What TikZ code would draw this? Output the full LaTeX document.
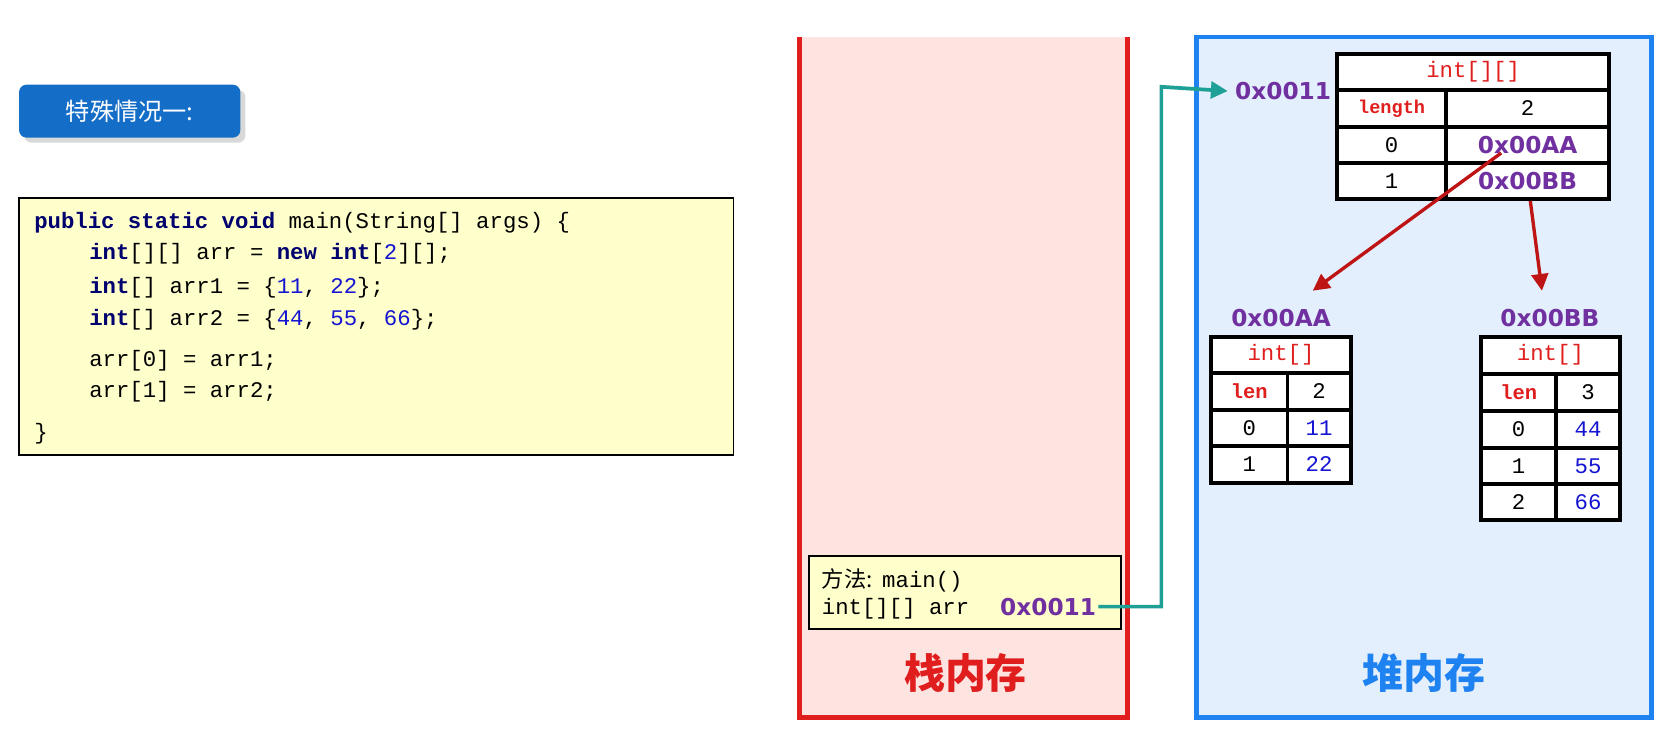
\documentclass[tikz,border=0pt]{standalone}
\usepackage{fontspec}
\setmainfont{DejaVu Sans}
\setmonofont{Liberation Mono}
\newfontfamily\cjk{Noto Sans CJK SC}
\usetikzlibrary{arrows.meta,shadows}
\definecolor{purp}{RGB}{112,48,160}
\definecolor{kw}{RGB}{0,0,110}
\definecolor{num}{RGB}{20,20,210}
\definecolor{rd}{RGB}{225,30,30}
\definecolor{drd}{RGB}{190,20,20}
\definecolor{teal2}{RGB}{30,160,150}
\definecolor{codebg}{RGB}{255,255,204}
\definecolor{stackbg}{RGB}{253,228,225}
\definecolor{heapbg}{RGB}{227,239,252}
\definecolor{heapbd}{RGB}{30,130,240}
\definecolor{tagbg}{RGB}{20,110,200}
\tikzset{
 cell/.style={draw=black,line width=2pt,fill=white,inner sep=0pt,font=\ttfamily\fontsize{12}{12}\selectfont},
 addr/.style={font=\bfseries\fontsize{12.5}{14}\selectfont,text=purp,inner sep=1pt},
 codeline/.style={anchor=west,inner sep=0pt,font=\ttfamily\fontsize{12}{14}\selectfont},
 refarrow/.style={draw=drd,line width=1.8pt,-{Triangle[length=9pt,width=9pt]}},
}
\newcommand{\kwd}[1]{\textbf{\textcolor{kw}{#1}}}
\newcommand{\nm}[1]{\textcolor{num}{#1}}
\begin{document}
\begin{tikzpicture}[x=0.02cm,y=-0.02cm]
\useasboundingbox (0,0) rectangle (1568,689);
% tag
\node[fill=tagbg,rounded corners=4pt,minimum width=209*0.02cm,minimum height=50*0.02cm,text=white,font=\cjk\fontsize{13}{14}\selectfont,drop shadow={opacity=0.3}] (tag) at (122.5,105) {特殊情况一:};
% code
\draw[fill=codebg,line width=0.8pt] (18,187) rectangle (693,430);
\node[codeline] (c1) at (32,210) {\kwd{public static void} main(String[] args) \{};
\node[codeline] (c2) at (84,240) {\kwd{int}[][] arr = \kwd{new int}[\nm{2}][];};
\node[codeline] (c3) at (84,272) {\kwd{int}[] arr1 = \{\nm{11}, \nm{22}\};};
\node[codeline] (c4) at (84,302) {\kwd{int}[] arr2 = \{\nm{44}, \nm{55}, \nm{66}\};};
\node[codeline] (c5) at (84,341) {arr[0] = arr1;};
\node[codeline] (c6) at (84,370) {arr[1] = arr2;};
\node[codeline] (c7) at (32,410) {\}};
% stack
\fill[stackbg] (755,35) rectangle (1065,678);
\draw[rd,line width=2.5pt] (755,35) -- (755,678) -- (1065,678) -- (1065,35);
\node[text=rd,font=\cjk\bfseries\fontsize{22}{24}\selectfont] (stk) at (912,636) {栈内存};
\draw[fill=codebg,line width=0.8pt] (764,525) rectangle (1059,594);
\node[codeline,font=\fontsize{12}{14}\selectfont] (m1) at (776,548) {{\cjk 方法:} \texttt{main()}};
\node[codeline] (m2) at (776,575) {int[][] arr};
\node[addr] (m3) at (990,573) {0x0011};
% heap
\draw[fill=heapbg,draw=heapbd,line width=2.5pt] (1130,35) rectangle (1560,678);
\node[text=heapbd,font=\cjk\bfseries\fontsize{22}{24}\selectfont] (hp) at (1345,636) {堆内存};
\node[addr] (h0) at (1212,86) {0x0011};
\draw[teal2,line width=2pt,-{Triangle[length=9pt,width=9pt]}] (m3.east) -- (1097,573) -- (1097,82) -- ([xshift=-0.1cm]h0.west);
% table 1
\newcommand{\cellat}[6]{\node[cell,minimum width=#3*0.02cm,minimum height=#4*0.02cm,#5] (#1) at (#2) {#6};}
\cellat{ta}{1391.5,68}{257}{34}{text=rd}{int[][]}
\cellat{tb}{1314.5,102.5}{103}{35}{text=rd,font=\ttfamily\bfseries\fontsize{10}{10}\selectfont}{length}
\cellat{tc}{1443,102.5}{154}{35}{}{2}
\cellat{td}{1314.5,137}{103}{34}{}{0}
\cellat{te}{1443,137}{154}{34}{addr}{0x00AA}
\cellat{tf}{1314.5,171}{103}{34}{}{1}
\cellat{tg}{1443,171}{154}{34}{addr}{0x00BB}
% table 2
\node[addr] (a0) at (1210,300) {0x00AA};
\cellat{ua}{1210,335}{132}{34}{text=rd}{int[]}
\cellat{ub}{1180,369.5}{72}{35}{text=rd,font=\ttfamily\bfseries\fontsize{11}{11}\selectfont}{len}
\cellat{uc}{1246,369.5}{60}{35}{}{2}
\cellat{ud}{1180,404}{72}{34}{}{0}
\cellat{ue}{1246,404}{60}{34}{text=num}{11}
\cellat{uf}{1180,438.5}{72}{35}{}{1}
\cellat{ug}{1246,438.5}{60}{35}{text=num}{22}
% table 3
\node[addr] (b0) at (1464,300) {0x00BB};
\cellat{va}{1464.5,335.5}{131}{35}{text=rd}{int[]}
\cellat{vb}{1434.5,370.5}{71}{35}{text=rd,font=\ttfamily\bfseries\fontsize{11}{11}\selectfont}{len}
\cellat{vc}{1500,370.5}{60}{35}{}{3}
\cellat{vd}{1434.5,405.5}{71}{35}{}{0}
\cellat{ve}{1500,405.5}{60}{35}{text=num}{44}
\cellat{vf}{1434.5,440}{71}{34}{}{1}
\cellat{vg}{1500,440}{60}{34}{text=num}{55}
\cellat{vh}{1434.5,474}{71}{34}{}{2}
\cellat{vi}{1500,474}{60}{34}{text=num}{66}
% arrows
\draw[refarrow] ([xshift=-0.5cm,yshift=-0.15cm]te.center) -- ([xshift=0.6cm,yshift=0.3cm]a0.north);
\draw[refarrow] ([xshift=0.05cm]tg.south) -- ([xshift=-0.15cm,yshift=0.3cm]b0.north);
\end{tikzpicture}
\end{document}
